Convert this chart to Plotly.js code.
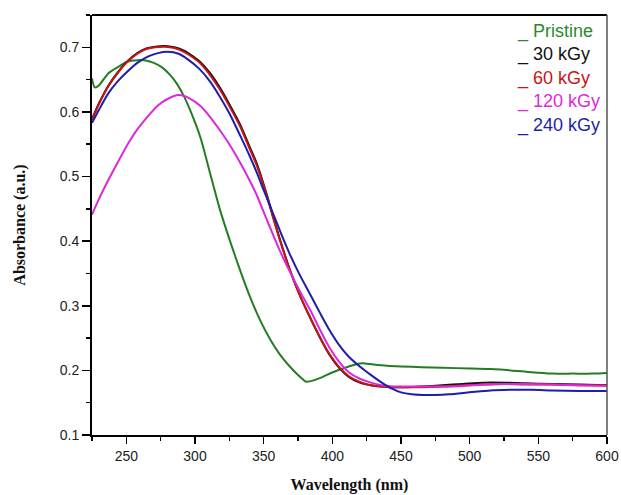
<!DOCTYPE html>
<html>
<head>
<meta charset="utf-8">
<script src="https://cdn.plot.ly/plotly-3.0.1.min.js"></script>
<style>
html,body{margin:0;padding:0;background:#fff;}
#chart{width:621px;height:495px;}
</style>
</head>
<body>
<div id="chart"></div>
<script>
// Series names and colours
const seriesNames = ["Pristine", "30 kGy", "60 kGy", "120 kGy", "240 kGy"];
const seriesColors = ["#237d23", "#111111", "#c81414", "#dc28dc", "#1e1eaa"];
const legendColors = ["#2a8a2a", "#111111", "#c81414", "#dc28dc", "#1e1eaa"];

// Pristine
const xPristine = [225, 227, 230, 237, 245, 251, 258, 263, 270, 276, 282, 287, 292, 297, 304, 311, 318, 326, 333, 340, 348, 355, 362, 369, 375, 381, 387, 393, 399, 405, 412, 418, 422, 430, 440, 450, 465, 480, 500, 515, 530, 545, 560, 575, 590, 600];
const yPristine = [0.652, 0.638, 0.641, 0.660, 0.671, 0.678, 0.680, 0.680, 0.676, 0.669, 0.657, 0.643, 0.624, 0.600, 0.560, 0.505, 0.450, 0.397, 0.354, 0.314, 0.275, 0.247, 0.224, 0.206, 0.193, 0.1825, 0.185, 0.190, 0.196, 0.201, 0.206, 0.210, 0.211, 0.209, 0.207, 0.206, 0.205, 0.204, 0.203, 0.202, 0.200, 0.197, 0.195, 0.195, 0.195, 0.196];

// 30 kGy and 60 kGy share wavelengths
const x30and60 = [225, 230, 237, 244, 251, 258, 264, 271, 278, 285, 292, 298, 304, 311, 318, 325, 333, 340, 345, 352, 358, 364, 370, 377, 384, 391, 398, 405, 412, 420, 428, 436, 445, 455, 465, 480, 495, 510, 525, 540, 560, 580, 600];
const y30 = [0.589, 0.613, 0.641, 0.662, 0.679, 0.691, 0.698, 0.701, 0.702, 0.700, 0.695, 0.687, 0.677, 0.660, 0.638, 0.612, 0.580, 0.545, 0.520, 0.474, 0.430, 0.388, 0.350, 0.313, 0.281, 0.251, 0.224, 0.204, 0.190, 0.181, 0.177, 0.175, 0.174, 0.174, 0.175, 0.177, 0.179, 0.181, 0.181, 0.180, 0.179, 0.178, 0.177];
const y60 = [0.588, 0.612, 0.640, 0.661, 0.678, 0.690, 0.697, 0.700, 0.701, 0.699, 0.693, 0.685, 0.675, 0.657, 0.635, 0.609, 0.577, 0.542, 0.517, 0.472, 0.428, 0.387, 0.350, 0.313, 0.281, 0.251, 0.225, 0.205, 0.191, 0.182, 0.177, 0.175, 0.174, 0.174, 0.174, 0.175, 0.177, 0.178, 0.179, 0.178, 0.178, 0.177, 0.177];

// 120 kGy
const x120 = [225, 230, 237, 244, 251, 258, 266, 273, 280, 288, 296, 304, 311, 318, 325, 333, 340, 345, 351, 358, 364, 370, 377, 384, 391, 398, 405, 412, 420, 428, 436, 445, 455, 465, 480, 495, 510, 525, 540, 560, 580, 600];
const y120 = [0.441, 0.465, 0.495, 0.523, 0.550, 0.573, 0.594, 0.610, 0.620, 0.626, 0.621, 0.609, 0.592, 0.572, 0.550, 0.521, 0.493, 0.471, 0.440, 0.404, 0.375, 0.349, 0.320, 0.293, 0.263, 0.235, 0.213, 0.197, 0.187, 0.181, 0.177, 0.175, 0.175, 0.175, 0.175, 0.176, 0.178, 0.179, 0.179, 0.178, 0.177, 0.176];

// 240 kGy
const x240 = [225, 230, 237, 244, 251, 258, 266, 273, 280, 288, 295, 303, 311, 318, 325, 333, 340, 345, 350, 357, 363, 369, 376, 384, 391, 398, 405, 412, 420, 428, 436, 443, 450, 458, 466, 475, 485, 500, 515, 530, 545, 560, 580, 600];
const y240 = [0.583, 0.603, 0.629, 0.648, 0.663, 0.676, 0.686, 0.691, 0.693, 0.690, 0.681, 0.667, 0.647, 0.624, 0.598, 0.563, 0.531, 0.506, 0.479, 0.442, 0.410, 0.380, 0.349, 0.317, 0.289, 0.262, 0.239, 0.221, 0.206, 0.193, 0.181, 0.172, 0.166, 0.163, 0.162, 0.162, 0.163, 0.166, 0.169, 0.170, 0.170, 0.169, 0.168, 0.168];

// Axis ticks
const xTickVals = [250, 300, 350, 400, 450, 500, 550, 600];
const yTickVals = [0.1, 0.2, 0.3, 0.4, 0.5, 0.6, 0.7];

const xs = [xPristine, x30and60, x30and60, x120, x240];
const ys = [yPristine, y30, y60, y120, y240];

const traces = seriesNames.map((n, i) => ({
  x: xs[i], y: ys[i], name: n, type: 'scatter', mode: 'lines',
  line: {color: seriesColors[i], width: 2, shape: 'spline', smoothing: 0.7},
  hoverinfo: 'skip'
}));

const legendY = [0.960, 0.905, 0.849, 0.793, 0.737];
const annotations = seriesNames.map((n, i) => ({
  xref: 'paper', yref: 'paper', x: 0.822, y: legendY[i],
  xanchor: 'left', yanchor: 'middle', showarrow: false,
  text: '_ ' + n,
  font: {family: 'Liberation Sans, Arial, sans-serif', size: 18, color: legendColors[i]}
}));

const layout = {
  width: 621, height: 495,
  margin: {l: 92, r: 14, t: 15, b: 60},
  paper_bgcolor: '#fff', plot_bgcolor: '#fff',
  showlegend: false,
  xaxis: {
    range: [225, 600], tickvals: xTickVals, ticks: 'outside', ticklen: 7, tickwidth: 1.5, tickcolor: '#000',
    showline: true, linecolor: '#000', linewidth: 2, showgrid: false, zeroline: false,
    tickfont: {family: 'Liberation Sans, Arial, sans-serif', size: 14, color: '#222'},
    minor: {dtick: 25, tick0: 0, ticks: 'outside', ticklen: 4, tickwidth: 1.5, tickcolor: '#000', showgrid: false},
    title: {text: 'Wavelength (nm)', standoff: 16, font: {family: 'Liberation Serif, Times New Roman, serif', size: 16, color: '#111', weight: 'bold'}}
  },
  yaxis: {
    range: [0.1, 0.75], tickvals: yTickVals, ticks: 'outside', ticklen: 8, tickwidth: 1.5, tickcolor: '#000',
    showline: true, linecolor: '#000', linewidth: 2, showgrid: false, zeroline: false,
    tickfont: {family: 'Liberation Sans, Arial, sans-serif', size: 14, color: '#222'},
    minor: {dtick: 0.05, tick0: 0.1, ticks: 'outside', ticklen: 4, tickwidth: 1.5, tickcolor: '#000', showgrid: false},
    title: {text: 'Absorbance (a.u.)', standoff: 30, font: {family: 'Liberation Serif, Times New Roman, serif', size: 16, color: '#111', weight: 'bold'}}
  },
  shapes: [
    {type: 'line', xref: 'paper', yref: 'paper', x0: 0, x1: 1, y0: 1, y1: 1, line: {color: '#000', width: 2}},
    {type: 'line', xref: 'paper', yref: 'paper', x0: 1, x1: 1, y0: 0, y1: 1, line: {color: '#555', width: 1.5}}
  ],
  annotations: annotations
};

Plotly.newPlot('chart', traces, layout, {displayModeBar: false, staticPlot: true});
</script>
</body>
</html>
